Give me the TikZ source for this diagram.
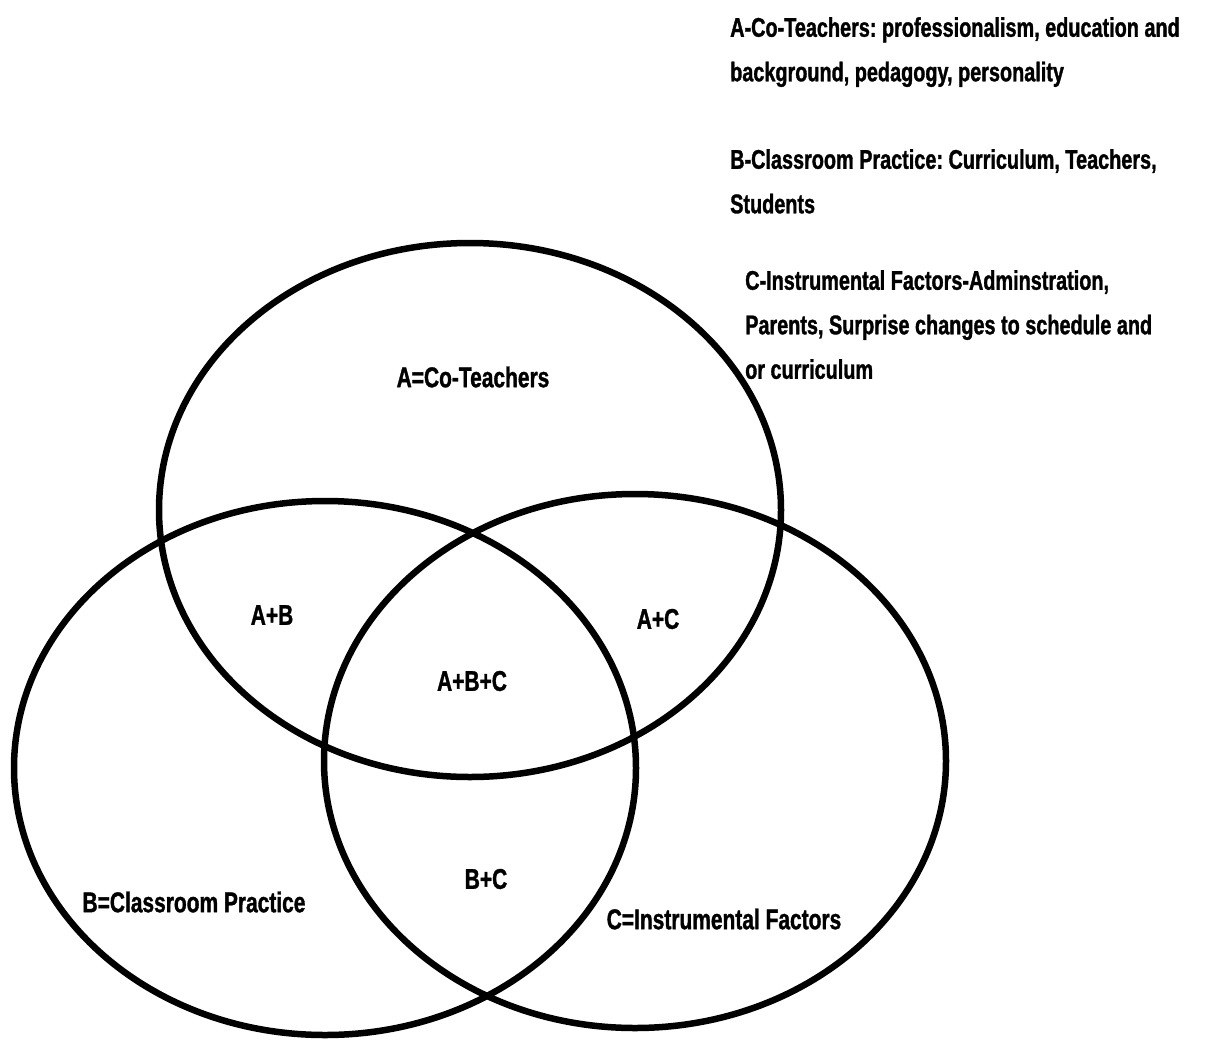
\documentclass[tikz,border=0pt]{standalone}
\usepackage{fontspec}
\setmainfont{Liberation Sans}[FakeStretch=0.735,BoldFeatures={FakeBold=1.2}]
\usetikzlibrary{shapes.geometric}
\frenchspacing
\tikzset{
 setring/.style={ellipse,draw,line width=6.5pt,inner sep=0pt,minimum width=622pt,minimum height=534pt},
 lbl/.style={font=\fontsize{28.5}{30}\selectfont\bfseries,inner sep=0pt},
 keytext/.style={font=\fontsize{27}{44.5}\selectfont\bfseries,align=left,anchor=north west,inner sep=0pt}
}
\begin{document}
\begin{tikzpicture}[x=1pt,y=-1pt]
 \useasboundingbox (0,0) rectangle (1213,1039);
 % the three sets
 \node[setring] (setA) at (470,510) {};
 \node[setring] (setB) at (325,768) {};
 \node[setring] (setC) at (635,761) {};
 % region labels
 \node[lbl] (labA) at (473,377) {A=Co-Teachers};
 \node[lbl] (labAB) at (272,615) {A+B};
 \node[lbl] (labAC) at (658,619) {A+C};
 \node[lbl] (labABC) at (472,681) {A+B+C};
 \node[lbl] (labBC) at (486,879) {B+C};
 \node[lbl] (labB) at (194,902) {B=Classroom Practice};
 \node[lbl] (labC) at (724,919) {C=Instrumental Factors};
 % key
 \node[keytext] (keyA) at (730,17) {A-Co-Teachers: professionalism, education and\\background, pedagogy, personality};
 \node[keytext] (keyB) at (730,149) {B-Classroom Practice: Curriculum, Teachers,\\Students};
 \node[keytext] (keyC) at (745,270) {C-Instrumental Factors-Adminstration,\\Parents, Surprise changes to schedule and\\or curriculum};
\end{tikzpicture}
\end{document}
